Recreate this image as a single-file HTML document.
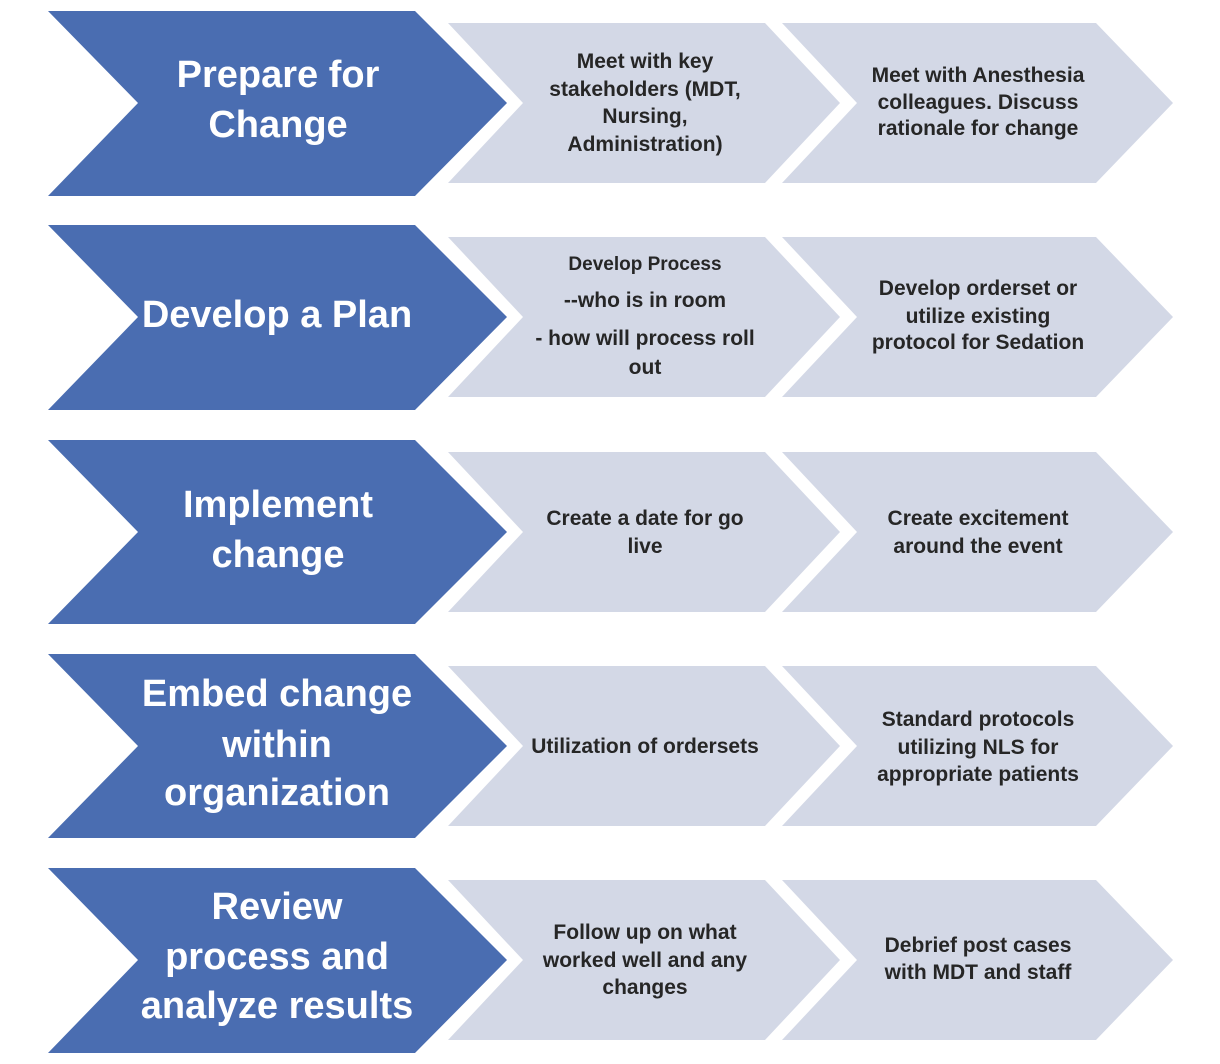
<!DOCTYPE html>
<html>
<head>
<meta charset="utf-8">
<style>
  html, body { margin: 0; padding: 0; background: #ffffff; }
  body { width: 1220px; height: 1064px; overflow: hidden; }
  svg { display: block; }
  .b { fill: #4a6db1; }
  .l { fill: #d3d8e6; }
  .bt { font-family: "Liberation Sans", Arial, sans-serif; font-weight: bold; font-size: 38px; fill: #ffffff; text-anchor: middle; }
  .lt { font-family: "Liberation Sans", Arial, sans-serif; font-weight: bold; font-size: 21px; fill: #262626; text-anchor: middle; }
  .ls { font-size: 19px; }
</style>
</head>
<body>
<svg width="1220" height="1064" viewBox="0 0 1220 1064" xmlns="http://www.w3.org/2000/svg">
  <rect x="0" y="0" width="1220" height="1064" fill="#ffffff"/>

  <!-- Row 1 (T=11) -->
  <polygon class="b" points="48,11 415,11 507,103 415,196 48,196 138,103"/>
  <polygon class="l" points="448,23 765,23 840,103 765,183 448,183 523,103"/>
  <polygon class="l" points="782,23 1096,23 1173,103 1096,183 782,183 857,103"/>
  <text class="bt" x="278" y="87">Prepare for</text>
  <text class="bt" x="278" y="137">Change</text>
  <text class="lt" x="645" y="68">Meet with key</text>
  <text class="lt" x="645" y="96">stakeholders (MDT,</text>
  <text class="lt" x="645" y="123">Nursing,</text>
  <text class="lt" x="645" y="151">Administration)</text>
  <text class="lt" x="978" y="82">Meet with Anesthesia</text>
  <text class="lt" x="978" y="109">colleagues. Discuss</text>
  <text class="lt" x="978" y="135">rationale for change</text>

  <!-- Row 2 (T=225) -->
  <polygon class="b" points="48,225 415,225 507,317 415,410 48,410 138,317"/>
  <polygon class="l" points="448,237 765,237 840,317 765,397 448,397 523,317"/>
  <polygon class="l" points="782,237 1096,237 1173,317 1096,397 782,397 857,317"/>
  <text class="bt" x="277" y="327">Develop a Plan</text>
  <text class="lt ls" x="645" y="270">Develop Process</text>
  <text class="lt" x="645" y="307">--who is in room</text>
  <text class="lt" x="645" y="345">- how will process roll</text>
  <text class="lt" x="645" y="374">out</text>
  <text class="lt" x="978" y="295">Develop orderset or</text>
  <text class="lt" x="978" y="323">utilize existing</text>
  <text class="lt" x="978" y="349">protocol for Sedation</text>

  <!-- Row 3 (T=440) -->
  <polygon class="b" points="48,440 415,440 507,532 415,624 48,624 138,532"/>
  <polygon class="l" points="448,452 765,452 840,532 765,612 448,612 523,532"/>
  <polygon class="l" points="782,452 1096,452 1173,532 1096,612 782,612 857,532"/>
  <text class="bt" x="278" y="517">Implement</text>
  <text class="bt" x="278" y="567">change</text>
  <text class="lt" x="645" y="525">Create a date for go</text>
  <text class="lt" x="645" y="553">live</text>
  <text class="lt" x="978" y="525">Create excitement</text>
  <text class="lt" x="978" y="553">around the event</text>

  <!-- Row 4 (T=654) -->
  <polygon class="b" points="48,654 415,654 507,746 415,838 48,838 138,746"/>
  <polygon class="l" points="448,666 765,666 840,746 765,826 448,826 523,746"/>
  <polygon class="l" points="782,666 1096,666 1173,746 1096,826 782,826 857,746"/>
  <text class="bt" x="277" y="706">Embed change</text>
  <text class="bt" x="277" y="757">within</text>
  <text class="bt" x="277" y="805">organization</text>
  <text class="lt" x="645" y="753">Utilization of ordersets</text>
  <text class="lt" x="978" y="726">Standard protocols</text>
  <text class="lt" x="978" y="754">utilizing NLS for</text>
  <text class="lt" x="978" y="781">appropriate patients</text>

  <!-- Row 5 (T=868) -->
  <polygon class="b" points="48,868 415,868 507,960 415,1053 48,1053 138,960"/>
  <polygon class="l" points="448,880 765,880 840,960 765,1040 448,1040 523,960"/>
  <polygon class="l" points="782,880 1096,880 1173,960 1096,1040 782,1040 857,960"/>
  <text class="bt" x="277" y="919">Review</text>
  <text class="bt" x="277" y="969">process and</text>
  <text class="bt" x="277" y="1018">analyze results</text>
  <text class="lt" x="645" y="939">Follow up on what</text>
  <text class="lt" x="645" y="967">worked well and any</text>
  <text class="lt" x="645" y="994">changes</text>
  <text class="lt" x="978" y="952">Debrief post cases</text>
  <text class="lt" x="978" y="979">with MDT and staff</text>
</svg>
</body>
</html>
